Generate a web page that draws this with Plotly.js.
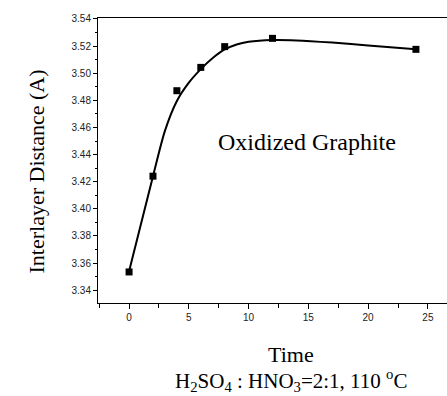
<!DOCTYPE html>
<html>
<head>
<meta charset="utf-8">
<script src="https://cdn.plot.ly/plotly-3.0.1.min.js"></script>
<style>html,body{margin:0;padding:0;background:#fff;}#chart{width:447px;height:396px;}</style>
</head>
<body>
<div id="chart"></div>
<script>
// Measured points
var timeX = [0, 2, 4, 6, 8, 12, 24];
var distY = [3.3535, 3.4241, 3.4871, 3.5043, 3.5196, 3.5257, 3.5176];
// Fitted curve
var fitX = [0, 1, 2, 3, 4, 5, 6, 7, 8, 9, 10, 12, 14, 17, 20, 24];
var fitY = [3.354, 3.389, 3.424, 3.4575, 3.4795, 3.4930, 3.5030, 3.5112, 3.5175, 3.5212, 3.5232, 3.5245, 3.5242, 3.5226, 3.5205, 3.5176];
// Texts
var yTitle = "Interlayer Distance (A)";
var xTitle = "Time";
var subTitle = "H<sub>2</sub>SO<sub>4</sub> : HNO<sub>3</sub>=2:1, 110 <sup>o</sup>C";
var label = "Oxidized Graphite";

var serif = "'Liberation Serif', 'Times New Roman', serif";
var sans = "'Liberation Sans', Arial, sans-serif";

var traces = [
  {x: fitX, y: fitY, mode: 'lines', type: 'scatter',
   line: {color: '#000', width: 2, shape: 'spline', smoothing: 0.8}, hoverinfo: 'skip'},
  {x: timeX, y: distY, mode: 'markers', type: 'scatter',
   marker: {symbol: 'square', size: 7, color: '#000'}}
];

var layout = {
  width: 447, height: 396,
  margin: {l: 98, r: 0, t: 18, b: 93},
  paper_bgcolor: '#fff', plot_bgcolor: '#fff',
  showlegend: false,
  xaxis: {
    range: [-2.6, 26.6], dtick: 5, tick0: 0,
    showgrid: false, zeroline: false,
    showline: true, linecolor: '#000', linewidth: 1, mirror: true,
    ticks: 'outside', ticklen: 5, tickcolor: '#000',
    minor: {dtick: 2.5, tick0: 0, ticks: 'outside', ticklen: 4, tickcolor: '#000'},
    tickfont: {family: sans, size: 10, color: '#222'}
  },
  yaxis: {
    range: [3.3306, 3.5407], dtick: 0.02, tick0: 3.34, tickformat: '.2f',
    showgrid: false, zeroline: false,
    showline: true, linecolor: '#000', linewidth: 1,
    ticks: 'outside', ticklen: 4, tickcolor: '#000',
    minor: {dtick: 0.01, tick0: 3.34, ticks: 'outside', ticklen: 2, tickcolor: '#000'},
    tickfont: {family: sans, size: 10, color: '#222'}
  },
  annotations: [
    {text: label, x: 14.9, y: 3.449, xref: 'x', yref: 'y', showarrow: false,
     font: {family: serif, size: 24, color: '#000'}},
    {text: yTitle, x: -0.218, y: 0.463, xref: 'paper', yref: 'paper', showarrow: false,
     textangle: -90, font: {family: serif, size: 22, color: '#000'}},
    {text: xTitle, x: 0.553, y: -0.179, xref: 'paper', yref: 'paper', showarrow: false,
     yanchor: 'middle', font: {family: serif, size: 22, color: '#000'}},
    {text: subTitle, x: 0.553, y: -0.272, xref: 'paper', yref: 'paper', showarrow: false,
     yanchor: 'middle', font: {family: serif, size: 21, color: '#000'}}
  ]
};

Plotly.newPlot('chart', traces, layout, {staticPlot: true, displayModeBar: false});
</script>
</body>
</html>
